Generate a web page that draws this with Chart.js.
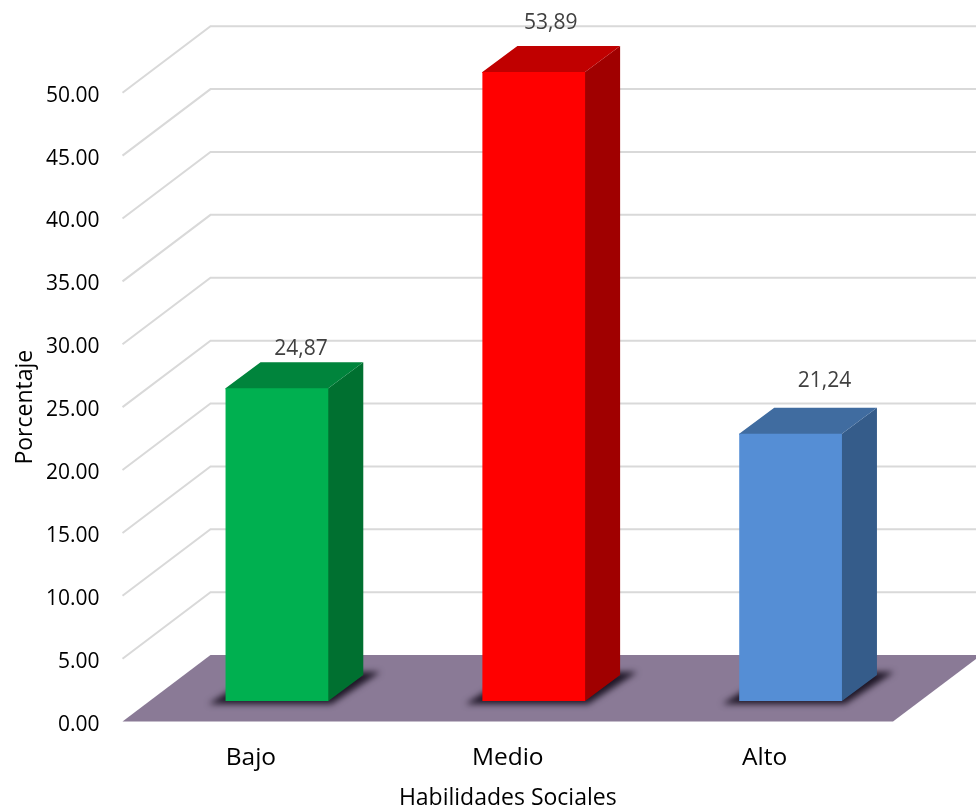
<!DOCTYPE html>
<html lang="es">
<head>
<meta charset="utf-8">
<title>Habilidades Sociales</title>
<script src="https://cdn.jsdelivr.net/npm/chart.js@4/dist/chart.umd.min.js"></script>
<style>
  html, body { margin: 0; padding: 0; background: #ffffff; }
  canvas { display: block; }
</style>
</head>
<body>
<canvas id="habilidadesChart" width="976" height="811"></canvas>
<script>
const categories = ["Bajo", "Medio", "Alto"];
const percentages = [24.87, 53.89, 21.24];

const xAxisTitle = "Habilidades Sociales";
const yAxisTitle = "Porcentaje";

const frontColors = ["#00b050", "#ff0000", "#558ed5"];
const topColors = ["#00843c", "#c00000", "#406ca0"];
const sideColors = ["#007030", "#a00000", "#355c8a"];

// where each value label sits relative to the top of its bar
const labelNudges = [[24, -39], [17, 0], [34, -53]];

// depth of the room and of the bars, in px
const WALL_DX = 88;
const WALL_DY = 66.5;
const BAR_SHIFT_X = 26;
const BAR_SHIFT_Y = -20.6;
const BAR_DX = 35;
const BAR_DY = 26;

function fillPoly(ctx, points, color) {
  ctx.fillStyle = color;
  ctx.beginPath();
  points.forEach((p, i) => (i ? ctx.lineTo(p[0], p[1]) : ctx.moveTo(p[0], p[1])));
  ctx.closePath();
  ctx.fill();
}

const room3d = {
  id: "room3d",
  beforeDatasetsDraw(chart) {
    const { ctx, chartArea, scales } = chart;
    const left = chartArea.left;
    const right = chartArea.right;
    const floorY = scales.y.getPixelForValue(0);

    // floor
    fillPoly(ctx, [
      [left, floorY],
      [left + WALL_DX, floorY - WALL_DY],
      [right + WALL_DX, floorY - WALL_DY],
      [right, floorY],
    ], "#8a7a96");

    // grid lines run along the side wall, then the back wall
    ctx.save();
    ctx.strokeStyle = "#d9d9d9";
    ctx.lineWidth = 2;
    scales.y.ticks.forEach((tick) => {
      if (tick.value === 0) return;
      const y = scales.y.getPixelForValue(tick.value);
      ctx.beginPath();
      ctx.moveTo(left, y);
      ctx.lineTo(left + WALL_DX, y - WALL_DY);
      ctx.lineTo(right + WALL_DX, y - WALL_DY);
      ctx.stroke();
    });
    ctx.restore();

    // soft shadows under the bars
    const bars = chart.getDatasetMeta(0).data;
    ctx.save();
    ctx.filter = "blur(3px)";
    bars.forEach((bar) => {
      const x0 = bar.x - bar.width / 2 + BAR_SHIFT_X;
      const x1 = bar.x + bar.width / 2 + BAR_SHIFT_X;
      const b = bar.base + BAR_SHIFT_Y;
      fillPoly(ctx, [
        [x0 - 17, b + 3],
        [x1 + 3, b + 3],
        [x1 + BAR_DX + 17, b - BAR_DY - 3],
        [x0 + BAR_DX, b - BAR_DY - 3],
      ], "#1e1626");
    });
    ctx.restore();

    // bar side and top faces
    bars.forEach((bar, i) => {
      const x0 = bar.x - bar.width / 2 + BAR_SHIFT_X;
      const x1 = bar.x + bar.width / 2 + BAR_SHIFT_X;
      const b = bar.base + BAR_SHIFT_Y;
      const t = Math.max(bar.y, chartArea.top) + BAR_SHIFT_Y;
      fillPoly(ctx, [[x1 - 1, b], [x1, b], [x1 + BAR_DX, b - BAR_DY], [x1 + BAR_DX, t - BAR_DY], [x1, t], [x1 - 1, t]], sideColors[i]);
      fillPoly(ctx, [[x0, t + 1], [x0, t], [x0 + BAR_DX, t - BAR_DY], [x1 + BAR_DX, t - BAR_DY], [x1, t], [x1, t + 1]], topColors[i]);
    });

    // front faces are the library's own bars, moved back into the room
    ctx.save();
    ctx.translate(BAR_SHIFT_X, BAR_SHIFT_Y);
  },
  afterDatasetsDraw(chart) {
    const { ctx, chartArea } = chart;
    ctx.restore();

    ctx.save();
    ctx.font = '21px "Open Sans"';
    ctx.fillStyle = "#404040";
    ctx.textAlign = "center";
    ctx.textBaseline = "middle";
    chart.getDatasetMeta(0).data.forEach((bar, i) => {
      const top = percentages[i] > chart.scales.y.max ? bar.y : Math.max(bar.y, chartArea.top);
      const text = percentages[i].toFixed(2).replace(".", ",");
      ctx.fillText(text, bar.x + BAR_SHIFT_X + labelNudges[i][0], top + BAR_SHIFT_Y + labelNudges[i][1]);
    });
    ctx.restore();
  },
};

new Chart(document.getElementById("habilidadesChart"), {
  type: "bar",
  data: {
    labels: categories,
    datasets: [
      {
        data: percentages,
        backgroundColor: frontColors,
        borderWidth: 0,
        barPercentage: 0.4,
        categoryPercentage: 1,
      },
    ],
  },
  plugins: [room3d],
  options: {
    responsive: false,
    animation: false,
    layout: { padding: { top: 92.7, right: 83, bottom: 0, left: 0 } },
    plugins: {
      legend: { display: false },
      tooltip: { enabled: false },
    },
    scales: {
      x: {
        grid: { display: false },
        border: { display: false },
        afterFit(scale) {
          scale.height = 89.4;
        },
        ticks: {
          color: "#000000",
          padding: 14,
          maxRotation: 0,
          font: { family: "Open Sans", size: 24.5 },
        },
        title: {
          display: true,
          text: xAxisTitle,
          color: "#000000",
          padding: { top: 0, bottom: -1 },
          font: { family: "Open Sans", size: 23 },
        },
      },
      y: {
        min: 0,
        max: 50,
        grid: { display: false },
        border: { display: false },
        afterFit(scale) {
          scale.width = 122.5;
        },
        ticks: {
          stepSize: 5,
          color: "#000000",
          padding: 15,
          labelOffset: 3,
          font: { family: "Open Sans", size: 21 },
          callback: (value) => value.toFixed(2),
        },
        title: {
          display: true,
          text: yAxisTitle,
          color: "#000000",
          padding: { top: 12, bottom: 0 },
          font: { family: "Open Sans", size: 23 },
        },
      },
    },
  },
});
</script>
</body>
</html>
